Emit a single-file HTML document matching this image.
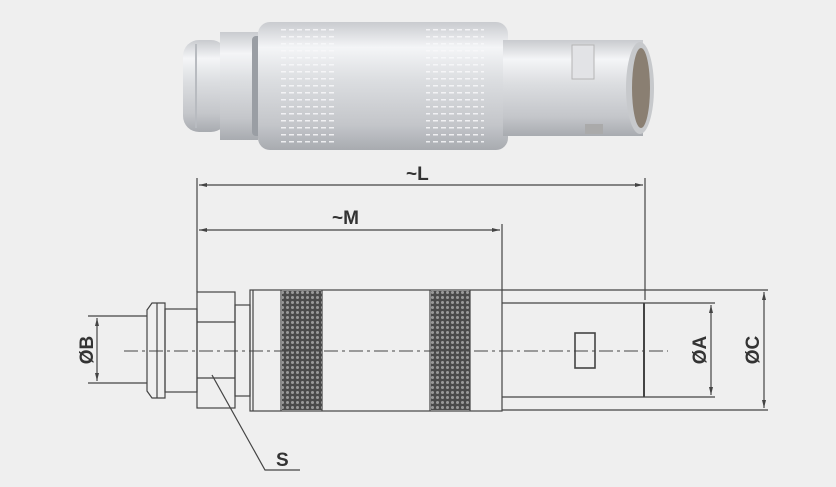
<!DOCTYPE html>
<html><head><style>
html,body{margin:0;padding:0;background:#efefef;}
svg{display:block}
text{font-family:"Liberation Sans",sans-serif;fill:#333;}
</style></head><body>
<svg width="836" height="487" viewBox="0 0 836 487" xmlns="http://www.w3.org/2000/svg">
<defs>
<linearGradient id="m" x1="0" y1="0" x2="0" y2="1">
<stop offset="0" stop-color="#c9cbcf"/><stop offset="0.2" stop-color="#f4f5f7"/><stop offset="0.45" stop-color="#dcdee1"/><stop offset="0.8" stop-color="#c4c6ca"/><stop offset="1" stop-color="#a8abb0"/>
</linearGradient>
<pattern id="kn" width="5" height="5" patternUnits="userSpaceOnUse">
<rect width="5" height="5" fill="#4a4a4a"/><circle cx="2.5" cy="2.5" r="1.5" fill="#9a9a9a"/>
</pattern>
<pattern id="kp" width="8" height="7" patternUnits="userSpaceOnUse">
<rect width="8" height="7" fill="none"/><rect x="1" y="1" width="5" height="1.5" fill="#f8f8fa"/>
</pattern>
</defs>
<rect width="836" height="487" fill="#efefef"/>
<!-- photo -->
<g>
<rect x="183" y="40" width="44" height="92" rx="16" fill="url(#m)"/>
<line x1="196" y1="44" x2="196" y2="128" stroke="#b8bbc0" stroke-width="2"/>
<rect x="220" y="32" width="38" height="108" fill="url(#m)"/>
<rect x="252" y="36" width="10" height="100" rx="4" fill="#9a9ea4"/>
<rect x="258" y="22" width="250" height="128" rx="12" fill="url(#m)"/>
<rect x="278" y="26" width="58" height="120" fill="url(#kp)" opacity="0.85"/>
<rect x="426" y="26" width="58" height="120" fill="url(#kp)" opacity="0.85"/>
<rect x="503" y="40" width="140" height="96" fill="url(#m)"/>
<rect x="572" y="45" width="22" height="34" fill="#e2e3e6" stroke="#b5b5b5"/>
<rect x="585" y="124" width="18" height="10" fill="#aaa"/>
<ellipse cx="640" cy="88" rx="14" ry="46" fill="#c7c9cc"/>
<ellipse cx="641" cy="88" rx="9" ry="40" fill="#8a7f72"/>
</g>
<g stroke="#444" fill="none" stroke-width="1.2">
<line x1="197" y1="178" x2="197" y2="292"/>
<line x1="645" y1="178" x2="645" y2="300"/>
<line x1="502" y1="224" x2="502" y2="290"/>
<line x1="199" y1="185" x2="643" y2="185"/>
<line x1="199" y1="230" x2="500" y2="230"/>
<line x1="88" y1="316" x2="147" y2="316"/>
<line x1="88" y1="383" x2="147" y2="383"/>
<line x1="97" y1="318" x2="97" y2="381"/>
<path d="M147 310 L152 303 L165 303 L165 398 L152 398 L147 391 Z"/>
<line x1="157" y1="303" x2="157" y2="398"/>
<rect x="165" y="309" width="32" height="83"/>
<rect x="197" y="292" width="38" height="116"/>
<line x1="197" y1="322" x2="235" y2="322"/>
<line x1="197" y1="378" x2="235" y2="378"/>
<rect x="235" y="305" width="15" height="91"/>
<rect x="250" y="290" width="252" height="121"/>
<line x1="253" y1="290" x2="253" y2="411"/>
<line x1="281" y1="290" x2="281" y2="411"/>
<line x1="322" y1="290" x2="322" y2="411"/>
<line x1="430" y1="290" x2="430" y2="411"/>
<line x1="470" y1="290" x2="470" y2="411"/>
<line x1="502" y1="290" x2="768" y2="290"/>
<line x1="502" y1="410" x2="768" y2="410"/>
<line x1="502" y1="303" x2="715" y2="303"/>
<line x1="502" y1="397" x2="715" y2="397"/>
<line x1="644" y1="303" x2="644" y2="397" stroke-width="2"/>
<rect x="575" y="333" width="20" height="35" stroke-width="1.6"/>
<line x1="711" y1="305" x2="711" y2="395"/>
<line x1="764" y1="292" x2="764" y2="408"/>
<path d="M212 375 L265 470 L300 470"/>
</g>
<rect x="282" y="291" width="40" height="119" fill="url(#kn)"/>
<rect x="431" y="291" width="39" height="119" fill="url(#kn)"/>
<line x1="124" y1="351" x2="668" y2="351" stroke="#444" stroke-width="1" stroke-dasharray="14,4,3,4"/>
<g fill="#444">
<path d="M199 185 l8 -2 v4 z"/><path d="M643 185 l-8 -2 v4 z"/>
<path d="M199 230 l8 -2 v4 z"/><path d="M500 230 l-8 -2 v4 z"/>
<path d="M97 318 l-2 8 h4 z"/><path d="M97 381 l-2 -8 h4 z"/>
<path d="M711 305 l-2 8 h4 z"/><path d="M711 395 l-2 -8 h4 z"/>
<path d="M764 292 l-2 8 h4 z"/><path d="M764 408 l-2 -8 h4 z"/>
</g>
<g font-size="19" font-weight="bold" fill="#333">
<text x="406" y="180" transform="scale(1,1)">~L</text>
<text x="332" y="224">~M</text>
<text x="276" y="466">S</text>
<text transform="translate(93,350) rotate(-90)" text-anchor="middle">ØB</text>
<text transform="translate(706,350) rotate(-90)" text-anchor="middle">ØA</text>
<text transform="translate(759,350) rotate(-90)" text-anchor="middle">ØC</text>
</g>
</svg>
</body></html>
